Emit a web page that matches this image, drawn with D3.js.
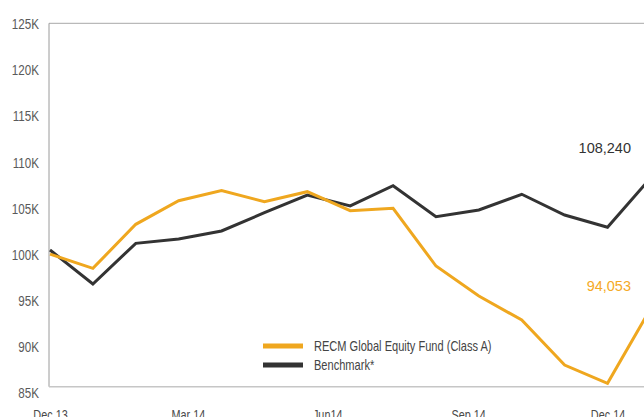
<!DOCTYPE html>
<html>
<head>
<meta charset="utf-8">
<script src="https://cdn.jsdelivr.net/npm/d3@7"></script>
<style>
  html, body { margin: 0; padding: 0; background: #fff; overflow: hidden; }
  svg { display: block; }
  .cond { font-family: "Liberation Sans", Arial, sans-serif; }
</style>
</head>
<body>
<svg id="chart" width="644" height="417"></svg>
<script>
// ---- data ----
const dates = ["2013-12-31","2014-01-28","2014-02-25","2014-03-25","2014-04-22","2014-05-20",
               "2014-06-17","2014-07-15","2014-08-12","2014-09-09","2014-10-07","2014-11-04",
               "2014-12-02","2014-12-30","2015-01-27"];
const fund      = [100.0, 98.46, 103.23, 105.79, 106.88, 105.68, 106.77, 104.71, 104.97, 98.71, 95.46, 92.86, 87.98, 86.0, 94.053];
const benchmark = [100.45, 96.76, 101.17, 101.64, 102.51, 104.49, 106.41, 105.22, 107.42, 104.06, 104.78, 106.49, 104.24, 102.91, 108.24];
const seriesNames = ["RECM Global Equity Fund (Class A)", "Benchmark*"];
const yTicks = [85, 90, 95, 100, 105, 110, 115, 120, 125];
const xTickDates = ["2013-12-31","2014-03-31","2014-06-30","2014-09-30","2014-12-30"];
const xTickLabels = ["Dec 13","Mar 14","Jun14","Sep 14","Dec 14"];
const endLabels = ["94,053", "108,240"];

// ---- setup ----
const parse = d3.timeParse("%Y-%m-%d");
const svg = d3.select("#chart");
const W = 644, H = 417;
const frame = { left: 49, top: 23.3, bottom: 386.7 };
const colors = { fund: "#EFA71F", bench: "#333333" };

const x = d3.scaleTime()
  .domain([parse(dates[0]), parse(dates[dates.length - 1])])
  .range([50, 650.4]);
const y = d3.scaleLinear().domain([85, 125]).range([392.5, 23.5]);

// frame lines
svg.append("line").attr("x1", frame.left).attr("x2", W).attr("y1", frame.top).attr("y2", frame.top)
  .attr("stroke", "#a8a8a8").attr("stroke-width", 1);
svg.append("line").attr("x1", frame.left).attr("x2", frame.left).attr("y1", frame.top).attr("y2", frame.bottom)
  .attr("stroke", "#9a9a9a").attr("stroke-width", 1);
svg.append("line").attr("x1", frame.left).attr("x2", W).attr("y1", frame.bottom).attr("y2", frame.bottom)
  .attr("stroke", "#c6c6c6").attr("stroke-width", 1.6);

// y axis labels (condensed look via horizontal scale)
const yAxis = d3.axisLeft(y).tickValues(yTicks).tickFormat(d => d + "K").tickSize(0).tickPadding(0);
const gy = svg.append("g").attr("transform", "translate(39,0)").call(yAxis);
gy.select(".domain").remove();
gy.selectAll("text").attr("class", "cond").attr("font-size", 15.5).attr("fill", "#5a5a5a")
  .attr("x", 0).attr("dy", "0.33em").attr("transform", "scale(0.75,1)");

// x axis labels
const xAxis = d3.axisBottom(x).tickValues(xTickDates.map(parse))
  .tickFormat((d, i) => xTickLabels[i]).tickSize(0).tickPadding(0);
const gx = svg.append("g").attr("transform", "translate(0,419.5)").call(xAxis);
gx.select(".domain").remove();
gx.selectAll("text").attr("class", "cond").attr("font-size", 14.5).attr("fill", "#4a4a4a")
  .attr("dy", 0).attr("y", 0).attr("transform", "scale(0.75,1)");

// lines
const line = d3.line().x((d, i) => x(parse(dates[i]))).y(d => y(d));
svg.append("path").datum(benchmark).attr("d", line).attr("fill", "none")
  .attr("stroke", colors.bench).attr("stroke-width", 3);
svg.append("path").datum(fund).attr("d", line).attr("fill", "none")
  .attr("stroke", colors.fund).attr("stroke-width", 3);

// end labels
svg.append("text").attr("x", 631).attr("y", y(benchmark[benchmark.length - 1]) - 25)
  .attr("text-anchor", "end").attr("font-family", "Liberation Sans, Arial, sans-serif")
  .attr("font-size", 14.5).attr("fill", "#333").text(endLabels[1]);
svg.append("text").attr("x", 631).attr("y", y(fund[fund.length - 1]) - 18)
  .attr("text-anchor", "end").attr("font-family", "Liberation Sans, Arial, sans-serif")
  .attr("font-size", 14.5).attr("fill", "#F5AA25").text(endLabels[0]);

// legend
const legend = svg.append("g").attr("transform", "translate(263,346)");
[colors.fund, colors.bench].forEach((c, i) => {
  const g = legend.append("g").attr("transform", `translate(0,${i * 19})`);
  g.append("rect").attr("x", 0).attr("y", -2.5).attr("width", 40).attr("height", 5).attr("fill", c);
  g.append("g").attr("transform", "translate(51,5) scale(0.79,1)")
    .append("text").attr("class", "cond").attr("x", 0).attr("y", 0).attr("font-size", 14)
    .attr("fill", "#444").text(seriesNames[i]);
});
</script>
</body>
</html>
